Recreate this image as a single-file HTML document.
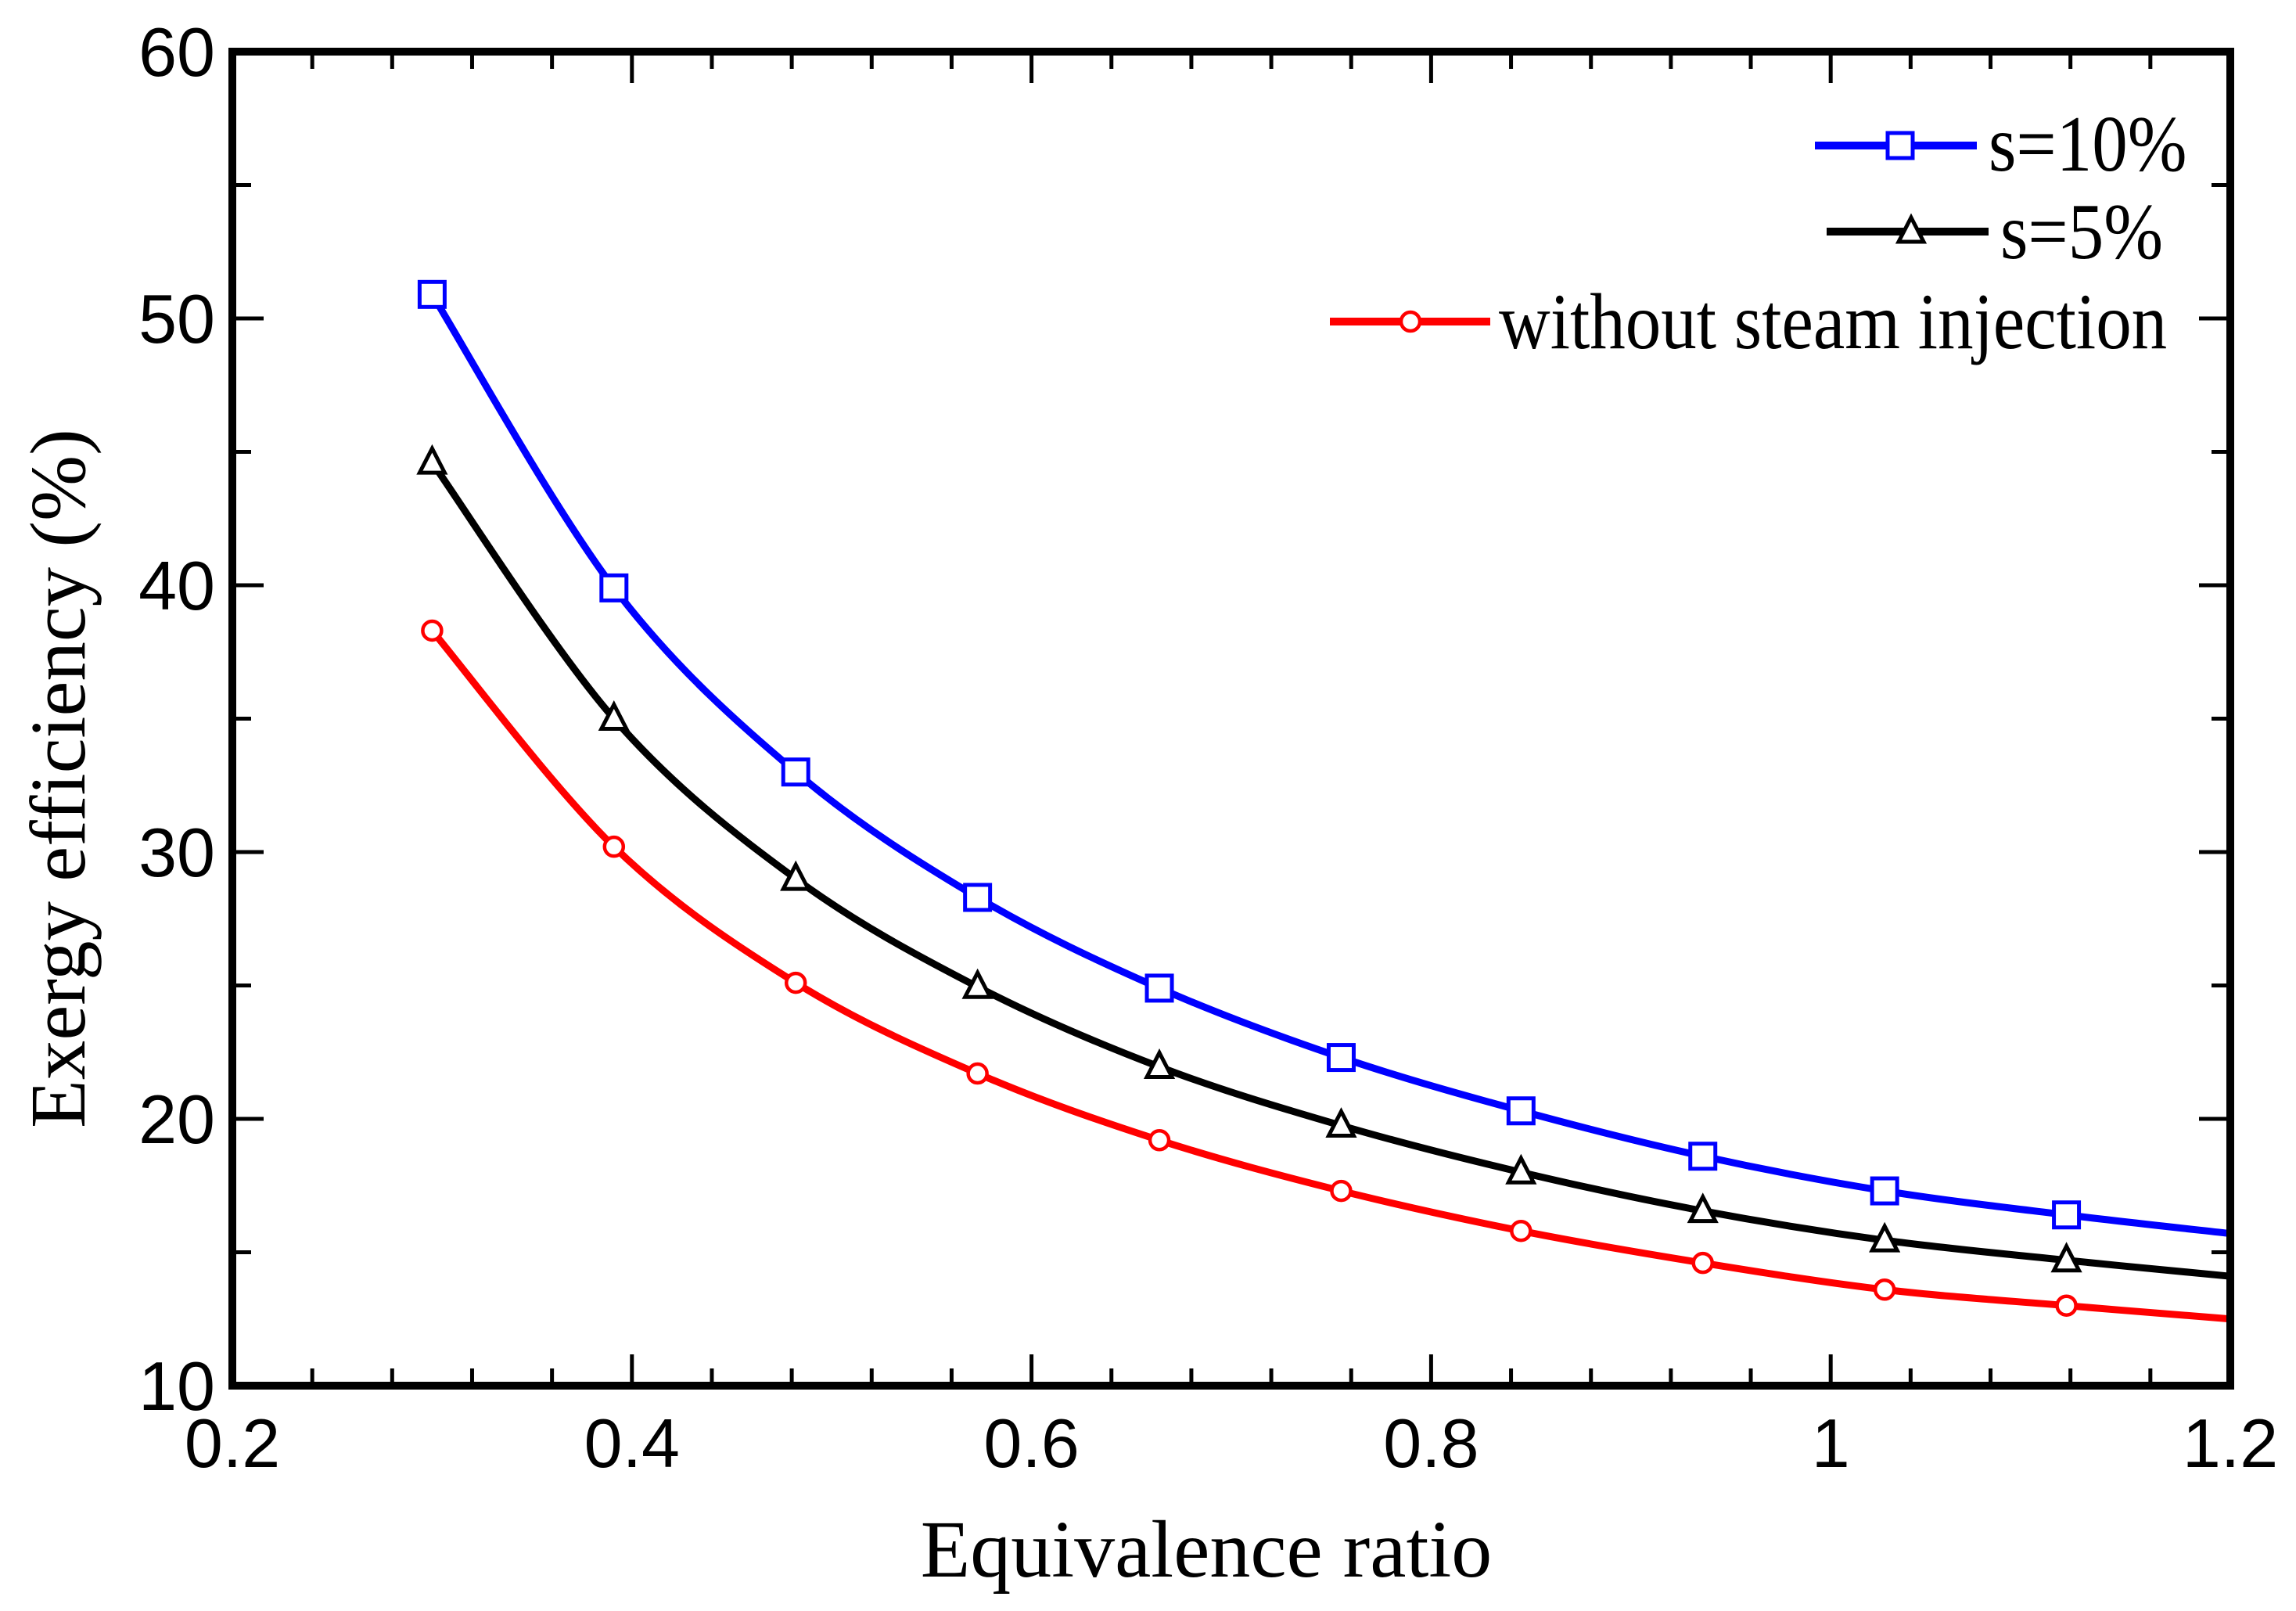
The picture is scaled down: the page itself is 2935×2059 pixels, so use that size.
<!DOCTYPE html>
<html><head><meta charset="utf-8"><style>
html,body{margin:0;padding:0;background:#fff;}
svg{display:block;}
</style></head><body>
<svg id="chart" width="2935" height="2059" viewBox="0 0 2935 2059" xmlns="http://www.w3.org/2000/svg">
<g id="ticks"></g>
<g id="series"></g>
<rect x="297" y="66" width="2554" height="1705" fill="none" stroke="#000" stroke-width="10"/>
<g id="labels" font-family="Liberation Sans, Arial, sans-serif" font-size="88" fill="#000"></g>
<text x="1542" y="2015" text-anchor="middle" font-family="Liberation Serif, Times New Roman, serif" font-size="104">Equivalence ratio</text>
<text transform="translate(108,995) rotate(-90)" text-anchor="middle" font-family="Liberation Serif, Times New Roman, serif" font-size="101">Exergy efficiency (%)</text>
<g id="legend" font-family="Liberation Serif, Times New Roman, serif" font-size="91"></g>
</svg>
<script>
const categories = [0.3,0.391,0.482,0.573,0.664,0.755,0.845,0.936,1.027,1.118,1.2];
const s10 = [50.9,39.9,33.0,28.3,24.9,22.3,20.3,18.6,17.3,16.4,15.7];
const s5 = [44.6,35.0,29.0,24.95,21.95,19.75,18.0,16.55,15.45,14.7,14.1];
const s0 = [38.3,30.2,25.1,21.7,19.2,17.3,15.8,14.6,13.6,13.0,12.5];
const xTicks = ["0.2","0.4","0.6","0.8","1","1.2"];
const yTicks = ["10","20","30","40","50","60"];

const NS="http://www.w3.org/2000/svg";
const X0=297,X1=2851,Y0=1771,Y1=66;
const xs=v=>X0+(v-0.2)/(1.0)*(X1-X0);
const ys=v=>Y0-(v-10)/50*(Y0-Y1);
function mk(tag,attrs,parent){const e=document.createElementNS(NS,tag);for(const k in attrs)e.setAttribute(k,attrs[k]);parent.appendChild(e);return e;}

const tk=document.getElementById('ticks');
for(let i=0;i<=25;i++){
  const v=0.2+i*0.04,x=xs(v),len=(i%5===0)?40:22;
  let t=mk('line',{x1:x,x2:x,y1:Y0,y2:Y0-len,stroke:'#000','stroke-width':5},tk);
  
  
  t=mk('line',{x1:x,x2:x,y1:Y1,y2:Y1+len,stroke:'#000','stroke-width':5},tk);
  
  
}
for(let i=0;i<=10;i++){
  const v=10+i*5,y=ys(v),len=(i%2===0)?40:24;
  let t=mk('line',{x1:X0,x2:X0+len,y1:y,y2:y,stroke:'#000','stroke-width':5},tk);
  
  
  t=mk('line',{x1:X1,x2:X1-len,y1:y,y2:y,stroke:'#000','stroke-width':5},tk);
  
  
}
const lb=document.getElementById('labels');
xTicks.forEach(s=>{
  const t=mk('text',{x:xs(parseFloat(s)),y:1875,'text-anchor':'middle'},lb);t.textContent=s;
  
  
});
yTicks.forEach(s=>{
  const t=mk('text',{x:275,y:ys(parseFloat(s))+31,'text-anchor':'end'},lb);t.textContent=s;
  
  
});

function smoothPath(pts){
  let d=`M${pts[0][0]},${pts[0][1]}`;
  for(let i=0;i<pts.length-1;i++){
    const p0=pts[Math.max(0,i-1)],p1=pts[i],p2=pts[i+1],p3=pts[Math.min(pts.length-1,i+2)];
    const c1=[p1[0]+(p2[0]-p0[0])/6,p1[1]+(p2[1]-p0[1])/6];
    const c2=[p2[0]-(p3[0]-p1[0])/6,p2[1]-(p3[1]-p1[1])/6];
    d+=` C${c1[0]},${c1[1]} ${c2[0]},${c2[1]} ${p2[0]},${p2[1]}`;
  }
  return d;
}
function marker(type,x,y,color,parent){
  let e;
  if(type==='square') e=mk('rect',{x:x-16,y:y-16,width:32,height:32,fill:'#fff',stroke:color,'stroke-width':5},parent);
  else if(type==='tri') e=mk('polygon',{points:`${x},${y-18} ${x+16},${y+13} ${x-16},${y+13}`,fill:'#fff',stroke:color,'stroke-width':5,'stroke-linejoin':'miter'},parent);
  else e=mk('circle',{cx:x,cy:y,r:12,fill:'#fff',stroke:color,'stroke-width':4.5},parent);
  return e;
}
const sg=document.getElementById('series');
const series=[[s10,'#0000ff','square','series-s10'],[s5,'#000','tri','series-s5'],[s0,'#ff0000','circle','series-no-steam']];
series.forEach(([vals,color,type,name])=>{
  const g=mk('g',{},sg);
  
  
  const pts=categories.map((c,i)=>[xs(c),ys(vals[i])]);
  const p=mk('path',{d:smoothPath(pts),fill:'none',stroke:color,'stroke-width':9},g);
  
  
  pts.slice(0,pts.length-1).forEach(pt=>{
    const m=marker(type,pt[0],pt[1],color,g);
    
    
  });
});

const lg=document.getElementById('legend');
const entries=[['#0000ff','square',2320,2527,2429,186,2542,218,'s=10%'],['#000','tri',2335,2542,2443,296,2557,330,'s=5%'],['#ff0000','circle',1700,1905,1803,411,1916,445,'without steam injection']];
entries.forEach(([c,type,xa,xb,xm,y,tx,ty,label])=>{
  const g=mk('g',{},lg);
  
  
  mk('line',{x1:xa,x2:xb,y1:y,y2:y,stroke:c,'stroke-width':10},g);
  marker(type,xm,y,c,g);
  const t=mk('text',{x:tx,y:ty,transform:`translate(0,${ty}) scale(1,1.12) translate(0,${-ty})`},g);t.textContent=label;
  
  
});
</script>
</body></html>
